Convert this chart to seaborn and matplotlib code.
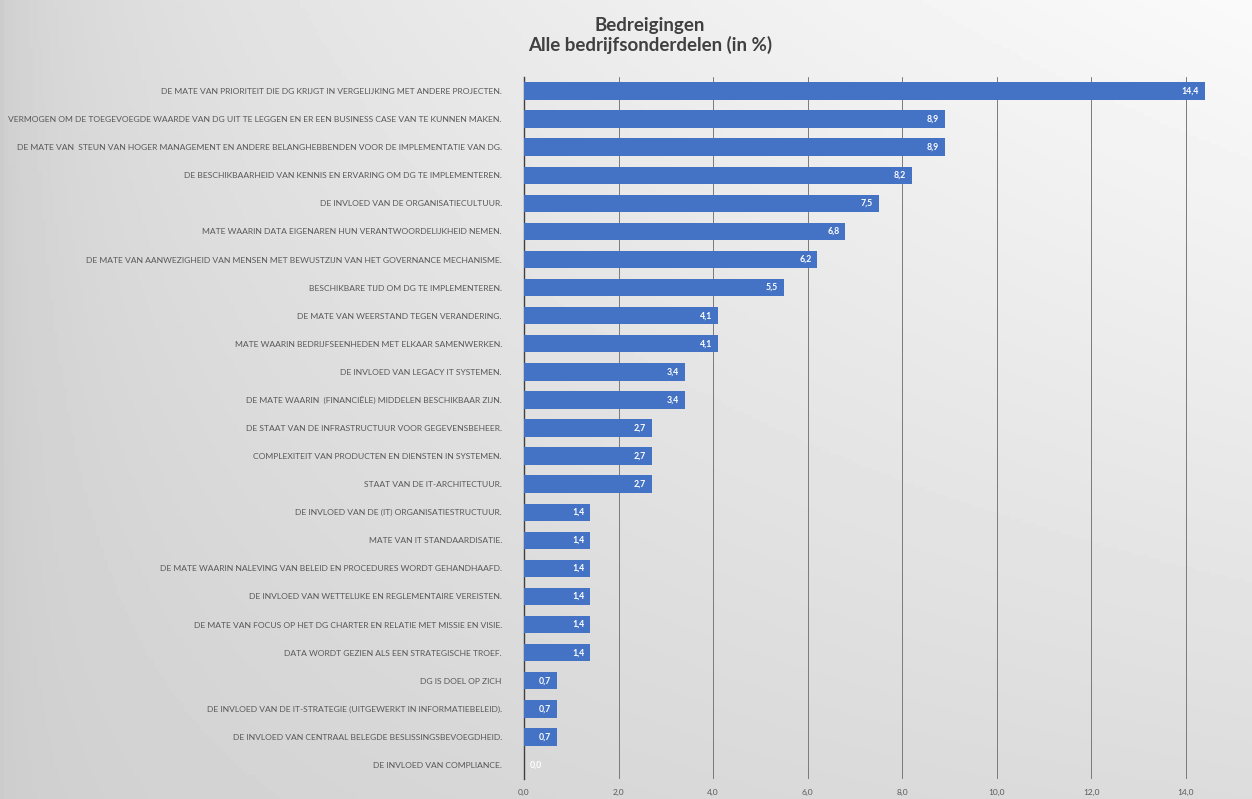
from matplotlib import pyplot as plt
import seaborn as sns
import pandas as pd
import numpy as np

# Data
labels = [
    "DE MATE VAN PRIORITEIT DIE DG KRIJGT IN VERGELIJKING MET ANDERE PROJECTEN.",
    "VERMOGEN OM DE TOEGEVOEGDE WAARDE VAN DG UIT TE LEGGEN EN ER EEN BUSINESS CASE VAN TE KUNNEN MAKEN.",
    "DE MATE VAN  STEUN VAN HOGER MANAGEMENT EN ANDERE BELANGHEBBENDEN VOOR DE IMPLEMENTATIE VAN DG.",
    "DE BESCHIKBAARHEID VAN KENNIS EN ERVARING OM DG TE IMPLEMENTEREN.",
    "DE INVLOED VAN DE ORGANISATIECULTUUR.",
    "MATE WAARIN DATA EIGENAREN HUN VERANTWOORDELIJKHEID NEMEN.",
    "DE MATE VAN AANWEZIGHEID VAN MENSEN MET BEWUSTZIJN VAN HET GOVERNANCE MECHANISME.",
    "BESCHIKBARE TIJD OM DG TE IMPLEMENTEREN.",
    "DE MATE VAN WEERSTAND TEGEN VERANDERING.",
    "MATE WAARIN BEDRIJFSEENHEDEN MET ELKAAR SAMENWERKEN.",
    "DE INVLOED VAN LEGACY IT SYSTEMEN.",
    "DE MATE WAARIN  (FINANCIËLE) MIDDELEN BESCHIKBAAR ZIJN.",
    "DE STAAT VAN DE INFRASTRUCTUUR VOOR GEGEVENSBEHEER.",
    "COMPLEXITEIT VAN PRODUCTEN EN DIENSTEN IN SYSTEMEN.",
    "STAAT VAN DE IT-ARCHITECTUUR.",
    "DE INVLOED VAN DE (IT) ORGANISATIESTRUCTUUR.",
    "MATE VAN IT STANDAARDISATIE.",
    "DE MATE WAARIN NALEVING VAN BELEID EN PROCEDURES WORDT GEHANDHAAFD.",
    "DE INVLOED VAN WETTELIJKE EN REGLEMENTAIRE VEREISTEN.",
    "DE MATE VAN FOCUS OP HET DG CHARTER EN RELATIE MET MISSIE EN VISIE.",
    "DATA WORDT GEZIEN ALS EEN STRATEGISCHE TROEF.",
    "DG IS DOEL OP ZICH",
    "DE INVLOED VAN DE IT-STRATEGIE (UITGEWERKT IN INFORMATIEBELEID).",
    "DE INVLOED VAN CENTRAAL BELEGDE BESLISSINGSBEVOEGDHEID.",
    "DE INVLOED VAN COMPLIANCE.",
]
values = [14.4, 8.9, 8.9, 8.2, 7.5, 6.8, 6.2, 5.5, 4.1, 4.1, 3.4, 3.4,
          2.7, 2.7, 2.7, 1.4, 1.4, 1.4, 1.4, 1.4, 1.4, 0.7, 0.7, 0.7, 0.0]
xticks = [0, 2, 4, 6, 8, 10, 12, 14]

BAR = '#4472C4'
TXT = '#595959'

if __name__ == '__main__':
    sns.set_style('white')
    plt.rcParams['font.family'] = ['Lato', 'DejaVu Sans']

    df = pd.DataFrame({'label': labels, 'value': values})

    fig = plt.figure(figsize=(12.52, 7.99), dpi=100)

    # Gradient background like the Excel chart area
    bg = fig.add_axes([0, 0, 1, 1], zorder=-1)
    gx = np.linspace(0, 1, 300)
    gy = np.linspace(0, 1, 200)
    X, Y = np.meshgrid(gx, gy)
    grad = 0.80 + 0.18 * np.clip(X, 0, 1) ** 0.45 * (1 - 0.65 * Y)
    bg.imshow(grad, cmap='gray', vmin=0, vmax=1, aspect='auto', extent=[0, 1, 1, 0])
    bg.axis('off')

    ax = fig.add_axes([524 / 1252, 1 - 779 / 799, (1233 - 524) / 1252, (779 - 77) / 799])
    ax.set_facecolor('none')

    sns.barplot(data=df, x='value', y='label', color=BAR, width=0.62,
                saturation=1, linewidth=0, ax=ax, zorder=3)

    # value labels inside the bar end
    for i, v in enumerate(values):
        txt = f"{v:.1f}".replace('.', ',')
        if v > 0:
            ax.text(v - 0.12, i, txt, ha='right', va='center', color='white',
                    fontsize=6.3, fontweight='bold', zorder=4)
        else:
            ax.text(v + 0.12, i, txt, ha='left', va='center', color='white',
                    fontsize=6.3, fontweight='bold', zorder=4)

    ax.set_xlim(0, 15)
    ax.set_xticks(xticks)
    ax.set_xticklabels([f"{t:.1f}".replace('.', ',') for t in xticks],
                       color=TXT, fontsize=6.0)
    ax.tick_params(axis='x', length=0, pad=7)
    ax.tick_params(axis='y', length=0, pad=16, labelsize=6.1, labelcolor=TXT)
    ax.xaxis.grid(True, color='#7a7a7a', linewidth=0.7, zorder=0)
    ax.set_axisbelow(True)
    for s in ['top', 'right', 'bottom']:
        ax.spines[s].set_visible(False)
    ax.spines['left'].set_color('#404040')
    ax.spines['left'].set_linewidth(1.0)
    ax.set_xlabel('')
    ax.set_ylabel('')

    fig.text(0.519, 0.979, 'Bedreigingen\nAlle bedrijfsonderdelen (in %)',
             ha='center', va='top', fontsize=13.5, fontweight='bold',
             color='#404040', linespacing=1.15)

    plt.savefig('out.png', dpi=100)
